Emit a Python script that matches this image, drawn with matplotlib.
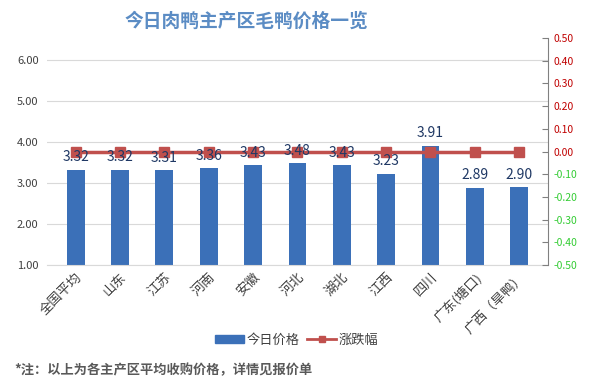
import numpy as np
import matplotlib
matplotlib.use('Agg')
import matplotlib.pyplot as plt
from matplotlib.ticker import FormatStrFormatter

plt.rcParams['font.family'] = ['Noto Sans CJK SC', 'DejaVu Sans']

regions = ['全国平均', '山东', '江苏', '河南', '安徽', '河北', '湖北', '江西', '四川', '广东(塘口)', '广西（旱鸭）']
prices = [3.32, 3.32, 3.31, 3.36, 3.43, 3.48, 3.43, 3.23, 3.91, 2.89, 2.90]
change = [0.00, 0.00, 0.00, 0.00, 0.00, 0.00, 0.00, 0.00, 0.00, 0.00, 0.00]
left_ticks = [1.0, 2.0, 3.0, 4.0, 5.0, 6.0]
right_ticks = [-0.5, -0.4, -0.3, -0.2, -0.1, 0.0, 0.1, 0.2, 0.3, 0.4, 0.5]

fig = plt.figure(figsize=(5.93, 3.90), dpi=100)
ax = fig.add_axes([0.079, 0.3205, 0.845, 0.582])
x = np.arange(len(regions))

ax.bar(x, prices, width=0.4, color='#3b70b8', zorder=2)
ax.set_ylim(1.0, 6.54)
ax.set_xlim(-0.65, len(regions) - 0.35)
ax.set_yticks(left_ticks)
ax.yaxis.set_major_formatter(FormatStrFormatter('%.2f'))
ax.tick_params(axis='y', length=0, labelsize=8, colors='#404040', pad=6)
ax.grid(axis='y', color='#d9d9d9', linewidth=0.8, zorder=0)
for s in ['top', 'left', 'right']:
    ax.spines[s].set_visible(False)
ax.spines['bottom'].set_color('#d9d9d9')
ax.set_xticks(x)
ax.set_xticklabels(regions, rotation=45, ha='right', rotation_mode='anchor',
                   fontsize=9.5, color='#404040')
ax.tick_params(axis='x', length=0, pad=4)

ax2 = ax.twinx()
ax2.plot(x, change, color='#c0504d', linewidth=2.5, marker='s', markersize=7, zorder=4)
ax2.set_ylim(-0.5, 0.5)
ax2.set_yticks(right_ticks)
ax2.yaxis.set_major_formatter(FormatStrFormatter('%.2f'))
ax2.tick_params(axis='y', length=4, direction='in', labelsize=7.5, color='#808080', pad=4)
for s in ['top', 'left', 'bottom']:
    ax2.spines[s].set_visible(False)
ax2.spines['right'].set_color('#808080')
for lbl, v in zip(ax2.get_yticklabels(), right_ticks):
    lbl.set_color('#c00000' if v >= 0 else '#33cc33')

# value labels drawn on top of the line
for xi, p in zip(x, prices):
    ax2.annotate(f'{p:.2f}', (xi, p), xycoords=ax.transData, xytext=(0, 9),
                 textcoords='offset points', ha='center', va='center',
                 fontsize=10, color='#1f3864', zorder=6)

fig.text(0.415, 0.945, '今日肉鸭主产区毛鸭价格一览', ha='center', va='center',
         fontsize=13.5, fontweight='bold', color='#5b8cc4')

h1 = plt.Rectangle((0, 0), 1, 1, color='#3b70b8')
h2, = ax.plot([], [], color='#c0504d', linewidth=2, marker='s', markersize=5)
fig.legend([h1, h2], ['今日价格', '涨跌幅'], loc='center', bbox_to_anchor=(0.5, 0.128),
           ncol=2, frameon=False, fontsize=9.5, handlelength=2.2, handleheight=0.6,
           columnspacing=0.6, handletextpad=0.2, labelcolor='#404040')

fig.text(0.025, 0.05, '*注：以上为各主产区平均收购价格，详情见报价单', ha='left', va='center',
         fontsize=9.5, color='#595959', fontweight='bold')

plt.savefig('out.png', dpi=100)
plt.close()
